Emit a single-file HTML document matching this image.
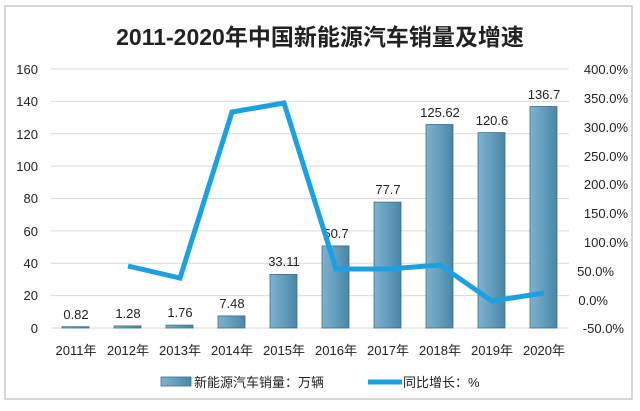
<!DOCTYPE html>
<html><head><meta charset="utf-8"><style>
body{margin:0;background:#fff;}
svg text{font-family:"Liberation Sans","Noto Sans CJK SC",sans-serif;fill:#222;}
</style></head><body>
<svg width="640" height="406" viewBox="0 0 640 406" xmlns="http://www.w3.org/2000/svg">
<defs><linearGradient id="g" x1="0" x2="1" y1="0" y2="0"><stop offset="0" stop-color="#7fb3d0"/><stop offset="1" stop-color="#4a86a8"/></linearGradient></defs>
<rect x="0" y="0" width="640" height="406" fill="#fff"/>
<rect x="5.5" y="5.5" width="626" height="240" fill="none"/>
<rect x="5" y="6" width="627" height="393" fill="none" stroke="#c8c8c8" stroke-width="1.5"/>
<text x="320" y="45" font-size="23" font-weight="bold" text-anchor="middle">2011-2020年中国新能源汽车销量及增速</text>
<g stroke="#d9d9d9" stroke-width="1">
<line x1="51" x2="569" y1="69" y2="69"/><line x1="51" x2="569" y1="101.4" y2="101.4"/><line x1="51" x2="569" y1="133.8" y2="133.8"/><line x1="51" x2="569" y1="166.1" y2="166.1"/><line x1="51" x2="569" y1="198.5" y2="198.5"/><line x1="51" x2="569" y1="230.9" y2="230.9"/><line x1="51" x2="569" y1="263.3" y2="263.3"/><line x1="51" x2="569" y1="295.6" y2="295.6"/><line x1="51" x2="569" y1="328" y2="328"/>
</g>
<g font-size="13" text-anchor="end">
<text x="38" y="74">160</text><text x="38" y="106">140</text><text x="38" y="139">120</text><text x="38" y="171">100</text><text x="38" y="203">80</text><text x="38" y="236">60</text><text x="38" y="268">40</text><text x="38" y="300">20</text><text x="38" y="333">0</text>
</g>
<g font-size="13" text-anchor="end">
<text x="628" y="74">400.0%</text><text x="628" y="103">350.0%</text><text x="628" y="132">300.0%</text><text x="628" y="161">250.0%</text><text x="628" y="189">200.0%</text><text x="628" y="218">150.0%</text><text x="628" y="247">100.0%</text><text x="614" y="276">50.0%</text><text x="608" y="305">0.0%</text><text x="624" y="333">-50.0%</text>
</g>
<g fill="url(#g)" stroke="#3d6f8c" stroke-width="0.8">
<rect x="62" y="326.7" width="27" height="1.3"/>
<rect x="114" y="325.9" width="27" height="2.1"/>
<rect x="166" y="325.1" width="27" height="2.9"/>
<rect x="218" y="315.9" width="27" height="12.1"/>
<rect x="270" y="274.4" width="27" height="53.6"/>
<rect x="322" y="245.9" width="27" height="82.1"/>
<rect x="374" y="202.1" width="27" height="125.9"/>
<rect x="426" y="124.5" width="27" height="203.5"/>
<rect x="478" y="132.6" width="27" height="195.4"/>
<rect x="530" y="106.5" width="27" height="221.5"/>
</g>
<g font-size="13" text-anchor="middle">
<text x="76" y="319">0.82</text><text x="128" y="318">1.28</text><text x="180" y="317">1.76</text><text x="232" y="308">7.48</text><text x="284" y="266">33.11</text><text x="336" y="238">50.7</text><text x="388" y="194">77.7</text><text x="440" y="117">125.62</text><text x="492" y="125">120.6</text><text x="544" y="99">136.7</text>
</g>
<polyline fill="none" stroke="#1ba1e2" stroke-width="5" stroke-linejoin="miter" points="128,266 180,278 232,112 284,103 336,269 388,269 440,265 492,301 544,293"/>
<g font-size="13" text-anchor="middle">
<text x="76" y="355">2011年</text><text x="128" y="355">2012年</text><text x="180" y="355">2013年</text><text x="232" y="355">2014年</text><text x="284" y="355">2015年</text><text x="336" y="355">2016年</text><text x="388" y="355">2017年</text><text x="440" y="355">2018年</text><text x="492" y="355">2019年</text><text x="544" y="355">2020年</text>
</g>
<rect x="161" y="377" width="30" height="9" fill="url(#g)" stroke="#3d6f8c" stroke-width="0.8"/>
<text x="194" y="387" font-size="13">新能源汽车销量：万辆</text>
<line x1="368" x2="402" y1="382" y2="382" stroke="#1ba1e2" stroke-width="5"/>
<text x="403" y="387" font-size="13">同比增长：%</text>
</svg>
</body></html>
